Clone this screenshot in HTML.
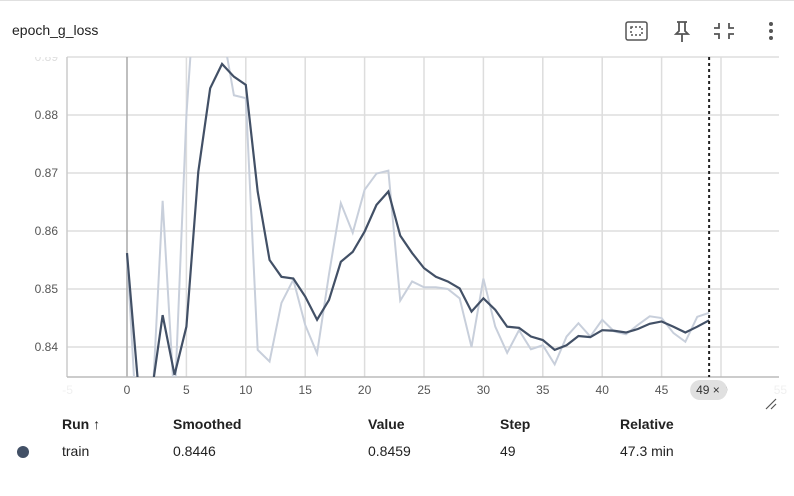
<!DOCTYPE html>
<html><head><meta charset="utf-8"><style>
body{margin:0;width:794px;height:496px;overflow:hidden;background:#fff;font-family:"Liberation Sans",sans-serif;color:#212121}
.hdr{position:absolute;left:12px;top:22px;font-size:14px}
.tbl{position:absolute;font-size:14px}
</style></head><body>
<div style="position:absolute;left:0;top:0;width:794px;height:1px;background:#e0e0e0"></div>
<div class="hdr">epoch_g_loss</div>
<svg style="position:absolute;left:0;top:0" width="794" height="60">
 <g stroke="#555" fill="none" stroke-width="1.5"><rect x="626" y="22" width="21" height="18" rx="2"/><rect x="631" y="27" width="11" height="8" stroke-dasharray="2 2"/></g>
 <g stroke="#555" fill="none" stroke-width="1.8"><path d="M677 22h10M679 22v9l-3 3h12l-3-3v-9M682 34v8"/></g>
 <g stroke="#555" fill="none" stroke-width="1.8"><path d="M719 23v5h-5M729 23v5h5M719 39v-5h-5M729 39v-5h5"/></g>
 <g fill="#555"><circle cx="771" cy="24" r="2"/><circle cx="771" cy="31" r="2"/><circle cx="771" cy="38" r="2"/></g>
</svg>
<svg id="chart" style="position:absolute;left:0;top:0" width="794" height="420"></svg>
<div class="tbl" style="left:62px;top:416px;font-weight:bold">Run ↑</div>
<div class="tbl" style="left:173px;top:416px;font-weight:bold">Smoothed</div>
<div class="tbl" style="left:368px;top:416px;font-weight:bold">Value</div>
<div class="tbl" style="left:500px;top:416px;font-weight:bold">Step</div>
<div class="tbl" style="left:620px;top:416px;font-weight:bold">Relative</div>
<div style="position:absolute;left:17px;top:446px;width:12px;height:12px;border-radius:6px;background:#425066"></div>
<div class="tbl" style="left:62px;top:443px">train</div>
<div class="tbl" style="left:173px;top:443px">0.8446</div>
<div class="tbl" style="left:368px;top:443px">0.8459</div>
<div class="tbl" style="left:500px;top:443px">49</div>
<div class="tbl" style="left:620px;top:443px">47.3 min</div>
<script>
const steps=[];for(let i=0;i<50;i++)steps.push(i);
const rawValues=[0.856,0.82,0.825,0.8652,0.83,0.88,0.91,0.90,0.895,0.8834,0.8829,0.8395,0.8375,0.8476,0.8516,0.8438,0.8389,0.8525,0.8648,0.8597,0.8671,0.8699,0.8704,0.848,0.8513,0.8503,0.8503,0.85,0.8484,0.84,0.8518,0.8435,0.839,0.8429,0.8396,0.8403,0.837,0.8418,0.8441,0.8418,0.8447,0.8427,0.8422,0.8438,0.8453,0.845,0.8424,0.8409,0.8452,0.8459];
const smoothedValues=[0.8562,0.832,0.831,0.8455,0.8352,0.8435,0.8702,0.8846,0.8888,0.8866,0.8852,0.8668,0.855,0.8521,0.8518,0.8487,0.8447,0.8481,0.8547,0.8564,0.8599,0.8645,0.8668,0.8592,0.8562,0.8536,0.8521,0.8513,0.8501,0.8461,0.8484,0.8464,0.8435,0.8433,0.8418,0.8412,0.8395,0.8403,0.8419,0.8417,0.8429,0.8428,0.8425,0.8431,0.844,0.8444,0.8435,0.8425,0.8435,0.8446];
const xTicks=[-5,0,5,10,15,20,25,30,35,40,45,50,55];
const yTicks=[0.84,0.85,0.86,0.87,0.88,0.89];
const L=67,R=779,T=57,B=377;
const X=s=>127+s*11.88;
const Y=v=>115-(v-0.88)*5800;
const svg=document.getElementById('chart');const NS='http://www.w3.org/2000/svg';
function mk(t,a,p){const e=document.createElementNS(NS,t);for(const k in a)e.setAttribute(k,a[k]);(p||svg).appendChild(e);return e;}
const defs=mk('defs',{});const cp=mk('clipPath',{id:'c'},defs);mk('rect',{x:L,y:T,width:R-L,height:B-T},cp);
const cp2=mk('clipPath',{id:'lc'},defs);mk('rect',{x:0,y:T,width:L,height:B-T+10},cp2);
yTicks.forEach(v=>{const y=Y(v);
 const g=mk('line',{x1:L,x2:R,y1:y,y2:y,stroke:'#ddd','stroke-width':1.5});
 
 
 const t=mk('text',{x:58,y:y+4,'text-anchor':'end','font-size':12,fill:v>0.885?'#ddd':'#555','clip-path':'url(#lc)'});t.textContent=v.toFixed(2);
 
 
});
xTicks.forEach(s=>{const x=X(s);
 if(s>-5&&s<55){const g=mk('line',{x1:x,x2:x,y1:T,y2:B,stroke:s===0?'#aaa':'#ddd','stroke-width':1.5});
 
 }
 const t=mk('text',{x:x,y:394,'text-anchor':'middle','font-size':12,fill:(s<0||s>50)?'#f0f0f0':'#555'});t.textContent=s;
 
 
});
const ax1=mk('line',{x1:L,x2:L,y1:T,y2:B,stroke:'#ccc','stroke-width':1.5});


const ax2=mk('line',{x1:L,x2:R,y1:B,y2:B,stroke:'#bbb','stroke-width':1.5});


const pts=a=>a.map((v,i)=>X(steps[i])+','+Y(v)).join(' ');
const raw=mk('polyline',{points:pts(rawValues),fill:'none',stroke:'#c8cfdb','stroke-width':2,'clip-path':'url(#c)'});


const sm=mk('polyline',{points:pts(smoothedValues),fill:'none',stroke:'#425066','stroke-width':2.2,'clip-path':'url(#c)'});


const hx=X(49);
const hl=mk('line',{x1:hx,x2:hx,y1:T,y2:B,stroke:'#222','stroke-width':2,'stroke-dasharray':'3 3'});


const pill=mk('rect',{x:hx-19,y:380,width:37,height:20,rx:10,fill:'#e0e0e0'});


const pt=mk('text',{x:hx-13,y:394,'font-size':12,fill:'#333'});pt.textContent='49 ×';


const rz=mk('path',{d:'M766 409l10-10M771 409l5-5',stroke:'#555','stroke-width':1.2});


</script>
</body></html>
